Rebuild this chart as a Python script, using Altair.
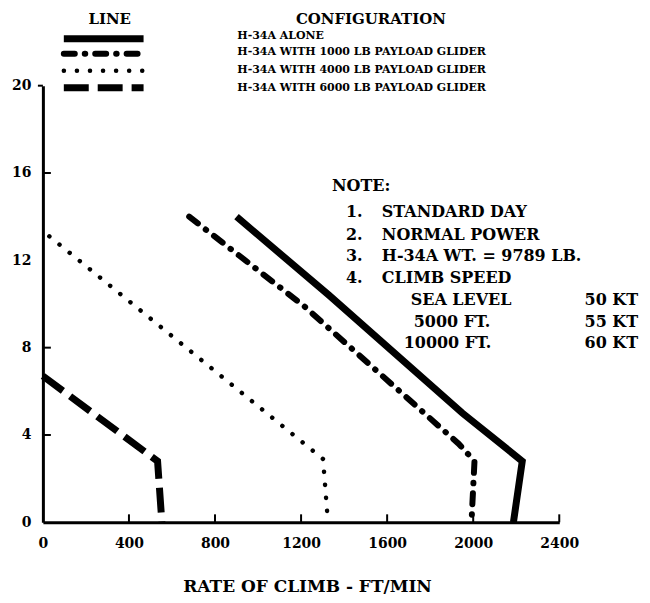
import altair as alt
import pandas as pd

# ---------------- data ----------------
CONFIGS = [
    "H-34A ALONE",
    "H-34A WITH 1000 LB PAYLOAD GLIDER",
    "H-34A WITH 4000 LB PAYLOAD GLIDER",
    "H-34A WITH 6000 LB PAYLOAD GLIDER",
]

# rate of climb (ft/min) and pressure altitude (1000 ft) along each curve
ALONE_ROC = [900, 1330, 1950, 2228, 2187]
ALONE_ALT = [14.0, 10.4, 5.0, 2.8, 0.0]

G1000_ROC = [680, 1214, 1932, 2006, 1992]
G1000_ALT = [14.0, 9.9, 3.6, 2.8, 0.0]

G4000_ROC = [30, 1302, 1325]
G4000_ALT = [13.1, 2.9, 0.0]

G6000_ROC = [0, 533, 553]
G6000_ALT = [6.7, 2.8, 0.0]

X_TICKS = [0, 400, 800, 1200, 1600, 2000, 2400]
Y_TICKS = [0, 4, 8, 12, 16, 20]
X_INNER_TICKS = [400, 800, 1200, 1600, 2000, 2400]
Y_INNER_TICKS = [4, 8, 16]

NOTE_TITLE = "NOTE:"
NOTE_NUMS = ["1.", "2.", "3.", "4."]
NOTE_ITEMS = ["STANDARD DAY", "NORMAL POWER", "H-34A WT. = 9789 LB.", "CLIMB SPEED"]
SPEED_ALTS = ["SEA LEVEL", "5000 FT.", "10000 FT."]
SPEED_KT = ["50 KT", "55 KT", "60 KT"]

# ---------------- build table ----------------
series = [
    (CONFIGS[0], ALONE_ROC, ALONE_ALT),
    (CONFIGS[1], G1000_ROC, G1000_ALT),
    (CONFIGS[2], G4000_ROC, G4000_ALT),
    (CONFIGS[3], G6000_ROC, G6000_ALT),
]
rows = []
for name, xs, ys in series:
    for i, (x, y) in enumerate(zip(xs, ys)):
        rows.append({"config": name, "roc": x, "alt": y, "ord": i})
df = pd.DataFrame(rows)

# ---------------- styles ----------------
FONT = "DejaVu Serif"
W, H = 518, 438

STYLES = {
    CONFIGS[0]: dict(strokeWidth=7, strokeCap="butt"),
    CONFIGS[1]: dict(strokeWidth=6, strokeCap="round", strokeDash=[11, 10, 0.5, 10]),
    CONFIGS[2]: dict(strokeWidth=4.5, strokeCap="round", strokeDash=[0.1, 13]),
    CONFIGS[3]: dict(strokeWidth=7, strokeCap="butt", strokeDash=[25, 9]),
}

xscale = alt.Scale(domain=[0, 2400], nice=False, zero=True)
yscale = alt.Scale(domain=[0, 20], nice=False, zero=True)

xaxis = alt.Axis(
    values=X_TICKS, format="d", title="RATE OF CLIMB - FT/MIN", ticks=False, grid=False,
    domainWidth=3, domainColor="black", labelColor="black", labelFont=FONT,
    labelFontWeight="bold", labelFontSize=14, labelPadding=14, labelFlush=False,
    titleFont=FONT, titleFontWeight="bold", titleFontSize=17, titleColor="black",
    titlePadding=28, titleX=265,
)
yaxis = alt.Axis(
    values=Y_TICKS, format="d", title=None, ticks=False, grid=False,
    domainWidth=3, domainColor="black", labelColor="black", labelFont=FONT,
    labelFontWeight="bold", labelFontSize=14, labelPadding=12, labelFlush=False,
)

layers = []
for name in CONFIGS:
    layers.append(
        alt.Chart(df)
        .transform_filter(alt.datum.config == name)
        .mark_line(color="black", clip=False, **STYLES[name])
        .encode(
            x=alt.X("roc:Q", scale=xscale, axis=xaxis),
            y=alt.Y("alt:Q", scale=yscale, axis=yaxis),
            order="ord:Q",
        )
    )

# inward tick marks
layers.append(
    alt.Chart(pd.DataFrame({"v": X_INNER_TICKS}))
    .mark_rule(color="black", strokeWidth=2)
    .encode(x=alt.X("v:Q", scale=xscale, axis=xaxis), y=alt.value(H), y2=alt.value(H - 8))
)
layers.append(
    alt.Chart(pd.DataFrame({"v": Y_INNER_TICKS}))
    .mark_rule(color="black", strokeWidth=2)
    .encode(y=alt.Y("v:Q", scale=yscale, axis=yaxis), x=alt.value(0), x2=alt.value(8))
)
layers.append(
    alt.Chart(pd.DataFrame({"v": [20]}))
    .mark_rule(color="black", strokeWidth=2)
    .encode(y=alt.Y("v:Q", scale=yscale, axis=yaxis), x=alt.value(-5), x2=alt.value(0))
)


def text_layer(label, x, y, size, align="left"):
    return (
        alt.Chart(pd.DataFrame({"t": [label]}))
        .mark_text(font=FONT, fontWeight="bold", fontSize=size, color="black",
                   align=align, baseline="middle")
        .encode(text="t:N", x=alt.value(x), y=alt.value(y))
    )


# legend
layers.append(text_layer("LINE", 67, -67, 15, "center"))
layers.append(text_layer("CONFIGURATION", 329, -67, 15, "center"))
label_y = [-50, -34, -16, 2]
sample_y = [-47, -32, -15, 2]
for name, ly, sy in zip(CONFIGS, label_y, sample_y):
    layers.append(text_layer(name, 195, ly, 11))
    layers.append(
        alt.Chart(pd.DataFrame({"t": [name]}))
        .mark_rule(color="black", **STYLES[name])
        .encode(x=alt.value(21), x2=alt.value(101), y=alt.value(sy))
    )

# notes
layers.append(text_layer(NOTE_TITLE, 290, 101, 16))
note_y = [127, 150, 171, 193]
for num, item, ny in zip(NOTE_NUMS, NOTE_ITEMS, note_y):
    layers.append(text_layer(num, 304, ny, 16))
    layers.append(text_layer(item, 340, ny, 16))
speed_x = [369, 372, 362]
speed_y = [215, 237, 258]
for a, kt, sx, sy in zip(SPEED_ALTS, SPEED_KT, speed_x, speed_y):
    layers.append(text_layer(a, sx, sy, 16))
    layers.append(text_layer(kt, 597, sy, 16, "right"))

chart = (
    alt.layer(*layers)
    .properties(
        width=W,
        height=H,
        autosize=alt.AutoSizeParams(type="none"),
        padding={"left": 35, "top": 77, "right": 83, "bottom": 72},
        background="white",
    )
    .configure_view(stroke=None)
)

chart.save("out.html", embed_options={"renderer": "svg", "actions": False})
